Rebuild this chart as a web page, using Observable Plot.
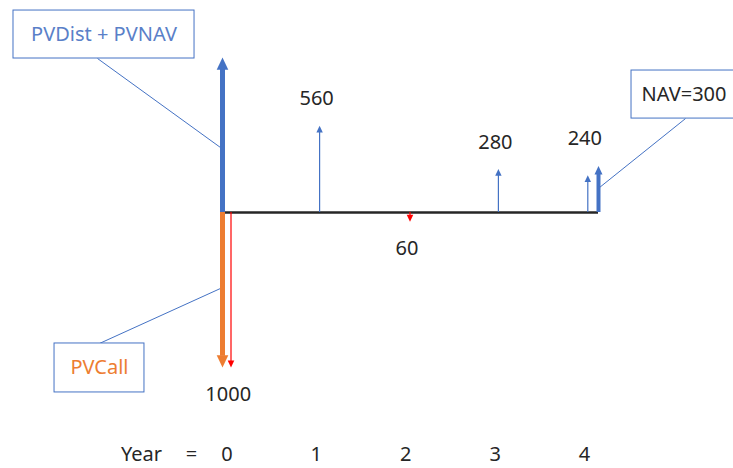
<!DOCTYPE html>
<html>
<head>
<meta charset="utf-8">
<script src="https://cdn.jsdelivr.net/npm/d3@7"></script>
<script src="https://cdn.jsdelivr.net/npm/@observablehq/plot@0.6"></script>
<style>
  html, body { margin: 0; padding: 0; background: #fff; }
  #chart svg { display: block; }
</style>
</head>
<body>
<div id="chart"></div>
<script>
// ---- data ----
const years = [0, 1, 2, 3, 4];
const cashFlows = [-1000, 560, -60, 280, 240];          // actual cash flows per year
const pvYears = [0, 0, 4];                               // present-value / terminal arrows
const pvValues = [1000, -1000, 300];
const pvNames = ["PVDist + PVNAV", "PVCall", "NAV=300"];
const yearWord = "Year";
const yearEquals = "=";

// callouts (data space: years, amount)
const calloutText = ["PVDist + PVNAV", "PVCall", "NAV=300"];
const calloutBoxX1 = [-2.424, -1.965, 4.489];
const calloutBoxX2 = [-0.399, -0.959, 5.9];
const calloutBoxY1 = [1303, -845, 916];
const calloutBoxY2 = [993.5, -1161, 606];
const calloutLinkX1 = [-1.484, -1.462, 5.093];
const calloutLinkY1 = [993.5, -845, 606];
const calloutLinkX2 = [-0.108, -0.108, 4.131];
const calloutLinkY2 = [419, -490, 161];

// ---- tables built from arrays ----
const flows = years.map((y, i) => ({year: y, amount: cashFlows[i]}));
const pvs = pvYears.map((y, i) => ({year: y, amount: pvValues[i], name: pvNames[i]}));
const callouts = calloutText.map((t, i) => ({
  text: t, x1: calloutBoxX1[i], x2: calloutBoxX2[i], y1: calloutBoxY1[i], y2: calloutBoxY2[i],
  lx1: calloutLinkX1[i], ly1: calloutLinkY1[i], lx2: calloutLinkX2[i], ly2: calloutLinkY2[i]
}));
// label height for inflows: top of the tallest arrow drawn at that year
const upLabelLevel = d => Math.max(d.amount, ...pvs.filter(p => p.year === d.year).map(p => p.amount));

const BLUE = "#4472C4", ORANGE = "#ED7D31", RED = "#FF0000", INK = "#262626";
const FONT = "'Noto Sans', 'Noto Sans CJK JP', sans-serif";

// filled arrowhead with its tip at the origin, pointing up
const HK = 2.1;
const head = {
  draw(ctx, size) {
    const r = Math.sqrt(size / Math.PI);
    ctx.moveTo(0, 0);
    ctx.lineTo(-r, HK * r);
    ctx.lineTo(r, HK * r);
    ctx.closePath();
  }
};

function arrows(data, {color, width, r, dx = 0}) {
  const up = data.filter(d => d.amount > 0);
  const down = data.filter(d => d.amount < 0);
  const h = HK * r - 1;
  return [
    Plot.ruleX(up, {x: "year", y1: "amount", y2: d => 0, stroke: color, strokeWidth: width, dx, insetTop: h}),
    Plot.ruleX(down, {x: "year", y1: d => 0, y2: "amount", stroke: color, strokeWidth: width, dx, insetBottom: h}),
    Plot.dot(up, {x: "year", y: "amount", symbol: head, r, fill: color, dx}),
    Plot.dot(down, {x: "year", y: "amount", symbol: head, r, fill: color, dx, rotate: 180})
  ];
}

const chart = Plot.plot({
  width: 733,
  height: 468,
  marginLeft: 229.7,
  marginRight: 145.7,
  marginTop: 57,
  marginBottom: 101,
  x: {domain: [0, 4], axis: null},
  y: {domain: [-1000, 1000], axis: null},
  style: {fontFamily: FONT, fontSize: "20px", color: INK, background: "#fff", overflow: "visible"},
  marks: [
    // callout connector lines
    Plot.link(callouts, {x1: "lx1", y1: "ly1", x2: "lx2", y2: "ly2", stroke: BLUE, strokeWidth: 1}),
    // time axis line
    Plot.ruleY([0], {x1: d => 0, x2: d => 4, stroke: INK, strokeWidth: 2.5, insetLeft: -7.7, insetRight: -10.7}),
    // cash flow arrows (thin)
    ...arrows(flows.filter(d => d.amount > 0), {color: BLUE, width: 1.2, r: 3.2}),
    ...arrows(flows.filter(d => d.amount < 0 && d.year !== 0), {color: RED, width: 1.2, r: 3.3, dx: 1}),
    ...arrows(flows.filter(d => d.year === 0), {color: RED, width: 1.2, r: 3.3, dx: 0.8}),
    // present-value arrows (thick)
    ...arrows(pvs.filter(d => d.year === 0 && d.amount > 0), {color: BLUE, width: 5, r: 5.8, dx: -7.7}),
    ...arrows(pvs.filter(d => d.year === 0 && d.amount < 0), {color: ORANGE, width: 5, r: 5.8, dx: -7.7}),
    ...arrows(pvs.filter(d => d.year === 4), {color: BLUE, width: 4, r: 4, dx: 10.7}),
    // value labels
    Plot.text(flows.filter(d => d.amount > 0), {x: "year", y: upLabelLevel, text: d => String(Math.abs(d.amount)), dy: -27, dx: -3, fill: INK, fontSize: 20}),
    Plot.text(flows.filter(d => d.amount < 0), {x: "year", y: "amount", text: d => String(Math.abs(d.amount)), dy: 27, dx: -2, fill: INK, fontSize: 20}),
    // callout boxes
    Plot.rect(callouts, {x1: "x1", x2: "x2", y1: "y1", y2: "y2", fill: "white", stroke: BLUE, strokeWidth: 1}),
    Plot.text(callouts.filter(d => d.text !== "NAV=300"), {
      x: d => (d.x1 + d.x2) / 2,
      y: d => (d.y1 + d.y2) / 2,
      text: "text",
      fill: d => d.text === "PVCall" ? ORANGE : "#5a80c8",
      fontSize: 20
    }),
    Plot.text(callouts.filter(d => d.text === "NAV=300"), {
      x: "x1",
      y: d => (d.y1 + d.y2) / 2,
      text: "text",
      textAnchor: "start",
      dx: 10,
      fill: INK,
      fontSize: 20
    }),
    // year row
    Plot.text(years, {x: d => d, text: d => String(d), frameAnchor: "bottom", lineAnchor: "middle", dy: 87, dx: -3.3, fill: INK, fontSize: 20}),
    Plot.text([yearWord], {x: d => 0, text: d => d, frameAnchor: "bottom", lineAnchor: "middle", dy: 87, dx: -88.7, fill: INK, fontSize: 20}),
    Plot.text([yearEquals], {x: d => 0, text: d => d, frameAnchor: "bottom", lineAnchor: "middle", dy: 87, dx: -38.7, fill: INK, fontSize: 20})
  ]
});

document.getElementById("chart").append(chart);
</script>
</body>
</html>
